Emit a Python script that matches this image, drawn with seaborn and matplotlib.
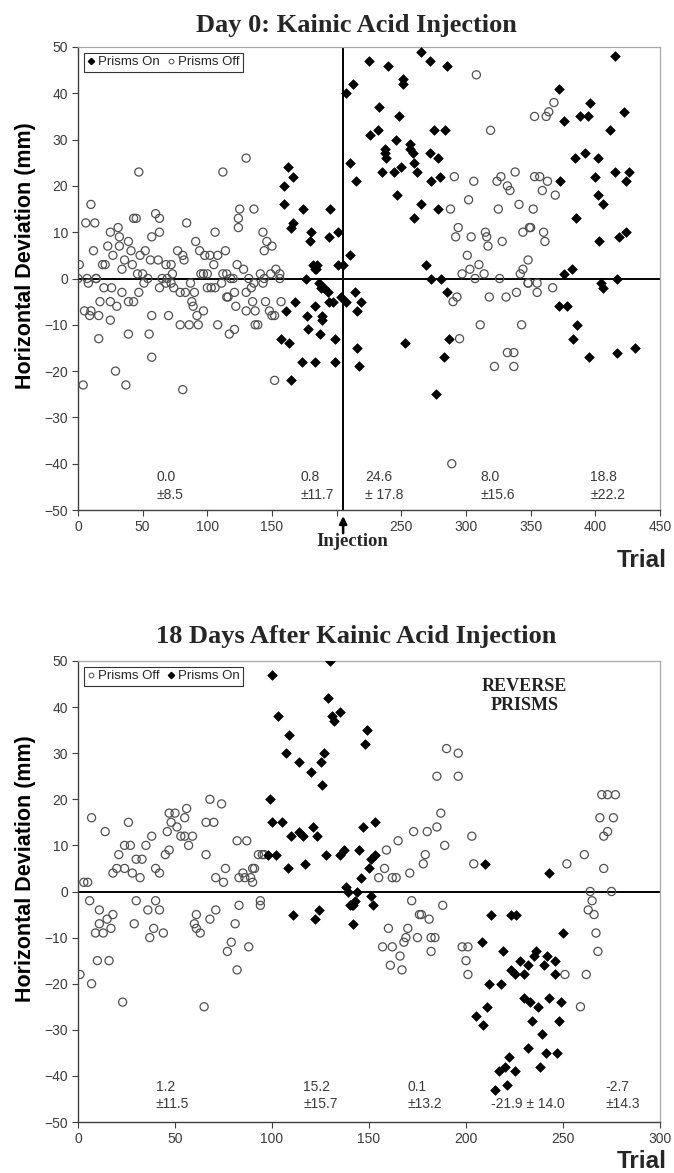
import numpy as np
import pandas as pd
import matplotlib
matplotlib.use("Agg")
import matplotlib.pyplot as plt
from matplotlib.lines import Line2D
import seaborn as sns

# ------------------------------------------------------------------
# Data (trial, deviation in mm)
# ------------------------------------------------------------------
# Day 0 - prisms off (open circles)
day0_off_x = [1, 0, 7, 14, 4, 10, 6, 13, 12, 5, 9, 10, 8, 14, 16, 16, 17, 19, 21, 20, 23, 25, 27, 25, 25,
              26, 30, 29, 31, 32, 32, 34, 34, 36, 37, 39, 39, 41, 39, 43, 42, 43, 45, 47, 46, 47, 48, 50,
              52, 51, 54, 55, 56, 57, 57, 57, 60, 63, 63, 62, 63, 65, 68, 68, 72, 69, 72, 73, 70, 74, 77,
              79, 83, 81, 82, 79, 86, 93, 81, 84, 87, 88, 89, 90, 91, 92, 94, 95, 97, 100, 97, 98, 100,
              103, 106, 102, 108, 105, 106, 108, 111, 112, 112, 115, 114, 116, 115, 117, 118, 120, 121,
              121, 122, 123, 125, 124, 124,
              130, 136, 143, 146, 150, 144, 128, 132, 136, 141, 144, 149, 153, 156, 156, 134, 130, 143,
              130, 135, 137, 145, 148, 150, 152, 157, 137, 139, 152,
              308, 319, 291, 306, 324, 327, 332, 334, 338, 302, 341, 288, 325, 294, 292, 304, 315, 316,
              317, 328, 344, 349, 301, 310, 303, 297, 307, 314, 326, 342, 344, 348, 348, 290, 293, 318,
              331, 339, 311, 343, 295, 332, 337, 322, 337, 289,
              353, 362, 364, 368, 353, 357, 363, 359, 369, 352, 350, 360, 361, 348, 355, 355, 367]
day0_off_y = [3, 0, 0, 0, -23, 16, 12, 12, 6, -7, -8, -7, -1, 0, -8, -13, -5, 3, 3, -2, 7, 10, 5, -5, -9,
              -2, -6, -20, 11, 9, 7, 2, -3, 4, -23, -12, 8, 6, -5, -5, 3, 13, 13, 23, 1, -3, 5, 1,
              6, -1, 0, -12, 4, -8, -17, 9, 14, 13, 10, 4, -2, 0, -1, 3, 3, 0, -1, 1, -8, -2, 6,
              -3, -3, 5, 4, -10, -10, -10, -24, 12, -1, -5, -6, -3, 8, -8, 6, 1, 1, 1, -7, 5, -2,
              -2, -2, 5, 5, 3, 10, -10, -1, 23, 1, 1, 6, -4, -4, -12, 0, 0, -3,
              -11, -6, 3, 15, 13, 11,
              26, 15, 10, 8, 7, 6, 2, 0, -1, 1, 0, 1, 2, 1, 0, -2, -3, -1,
              -7, -5, -7, -5, -7, -8, -8, -5, -10, -10, -22,
              44, 32, 22, 21, 21, 22, 20, 19, 23, 17, 16, 15, 15, 11, 9, 9, 10, 9,
              7, 8, 10, 11, 5, 3, 2, 1, 0, 1, 0, 1, 2, 4, -1, -5, -4, -4,
              -4, -3, -10, -10, -13, -16, -16, -19, -19, -40,
              35, 35, 36, 38, 22, 22, 21, 19, 18, 15, 11, 10, 8, -1, -1, -3, -2]

# Day 0 - prisms on (filled diamonds)
day0_on_x = [162, 166, 159, 159, 174, 195, 165, 166, 180, 179, 194, 201, 201, 205, 182, 184, 185, 183,
             176, 186, 188, 190, 193, 194, 197, 203, 207, 214, 219, 216, 168, 161, 177, 183, 189, 189,
             178, 187, 199, 157, 163, 216, 173, 183, 199, 217, 165,
             207, 213, 210, 215, 210, 225, 240, 233, 226, 232, 237, 237, 238, 235,
             265, 272, 285, 251, 251, 248, 275, 284, 246, 257, 257, 259, 260, 272, 278, 244, 250,
             262, 273, 280, 247, 265, 278, 260, 269, 273, 281, 285, 287, 253, 283, 277,
             372, 376, 388, 394, 396, 415, 422, 411, 384, 392, 402, 373, 400, 402, 406, 415, 426,
             424, 385, 403, 418, 424, 376, 382, 404, 406, 417, 372, 378, 386, 383, 395, 417, 431]
day0_on_y = [24, 22, 20, 16, 15, 15, 11, 12, 10, 8, 9, 10, 3, 3, 3, 2, 3, 2,
             0, -1, -2, -2, -3, -5, -5, -4, -5, -3, -5, -7, -5, -7, -8, -6, -8, -9,
             -11, -12, -13, -13, -14, -15, -18, -18, -18, -19, -22,
             40, 42, 25, 21, 5, 47, 46, 37, 31, 32, 28, 27, 26, 23,
             49, 47, 46, 43, 42, 35, 32, 32, 30, 29, 28, 27, 25, 27, 26, 23, 24,
             23, 21, 22, 18, 16, 15, 13, 3, 0, 0, -3, -13, -14, -17, -25,
             41, 34, 35, 35, 38, 48, 36, 32, 26, 27, 26, 21, 22, 18, 16, 23, 23,
             21, 13, 8, 9, 10, 1, 2, -1, -2, 0, -6, -6, -10, -13, -17, -16, -15]

# 18 days - prisms off (open circles)
day18_off_x = [1, 3, 5, 7, 6, 11, 7, 9, 13, 11, 15, 18, 10, 16, 17, 14, 18, 20, 24, 21, 23, 24, 27, 28,
               29, 30, 26, 30, 33, 32, 35, 36, 37, 39, 38, 40, 42, 40, 42, 44, 45, 47, 46, 47, 50, 48,
               51, 53, 55, 59, 55, 56, 57, 60, 61, 63, 61, 65, 66, 66, 70, 68, 71, 68, 74, 71, 75, 76,
               77, 79, 81, 82, 82, 83, 83,
               87, 93, 95, 96, 85, 86, 90, 91, 89, 90, 94, 94, 88,
               190, 196, 185, 196, 187, 173, 180, 185, 203, 165, 159, 179, 178, 189, 158, 155, 162, 164,
               171, 204, 172, 188, 176, 177, 181, 160, 170, 169, 168, 175, 182, 184, 182, 157, 162, 166,
               161, 167, 198, 201, 200, 201,
               270, 273, 277, 269, 276, 273, 271, 261, 252, 271, 264, 275, 265, 263, 266, 267, 268, 251,
               262, 259]
day18_off_y = [-18, 2, 2, 16, -2, -4, -20, -9, -9, -7, -6, -5, -15, -15, -8, 13, 4, 5, 5, 8, -24, 10, 10, 4,
               -7, -2, 15, 7, 7, 3, 10, -4, -10, -8, 12, -2, -4, 5, 4, -9, 8, 9, 13, 17, 17, 15,
               14, 12, 12, 12, 16, 18, 10, -7, -8, -9, -5, -25, 8, 15, 15, -6, -4, 20, 19, 3, 2, 5,
               -13, -11, -7, -17, 11, 3, -3,
               11, 8, 8, 8, 4, 3, 5, 5, 3, 2, -2, -3, -12,
               31, 30, 25, 25, 17, 13, 13, 14, 12, 11, 9, 8, 6, 10, 5, 3, 3, 3,
               4, 6, -2, -3, -5, -5, -6, -8, -8, -10, -11, -10, -10, -10, -13, -12, -12, -14,
               -16, -17, -12, -12, -15, -18,
               21, 21, 21, 16, 16, 13, 12, 8, 6, 5, 0, 0, -2, -4, -5, -9, -13, -18,
               -18, -25]

# 18 days - prisms on (filled diamonds)
day18_on_x = [100, 103, 109, 107, 114, 120, 126, 125, 127, 129, 130, 131, 132, 135, 149, 148, 99, 100,
              105, 98, 102, 110, 114, 116, 121, 123, 108, 117, 128, 135, 137, 147, 153, 145, 153, 150,
              146, 138, 139, 144, 143, 142, 141, 140, 151, 152, 142, 111, 122, 124,
              151, 210, 213, 223, 226, 208, 219, 223, 225, 212, 218, 211, 205, 209, 222, 220, 217, 225,
              215, 221,
              243, 250, 228, 230, 232, 236, 235, 240, 242, 246, 246, 230, 233, 237, 243, 249, 234, 248,
              239, 232, 241, 247, 238]
day18_on_y = [47, 38, 34, 30, 28, 26, 23, 28, 30, 42, 50, 38, 37, 39, 35, 32, 20, 15,
              15, 8, 8, 12, 13, 12, 14, 12, 5, 6, 8, 8, 9, 14, 15, 9, 8, 5,
              3, 1, 0, 0, -2, -3, -3, -3, -1, -3, -7, -5, -6, -4,
              7, 6, -5, -5, -5, -11, -13, -17, -18, -20, -20, -25, -27, -29, -36, -38, -39, -39,
              -43, -42,
              4, -9, -15, -18, -16, -13, -14, -16, -14, -15, -18, -23, -24, -25, -23, -24, -28, -28,
              -31, -34, -35, -35, -38]

# group means +/- SD written under each block
day0_notes = ["0.0\n\u00b18.5", "0.8\n\u00b111.7", "24.6\n\u00b1 17.8", "8.0\n\u00b115.6", "18.8\n\u00b122.2"]
day0_note_x = [61, 172, 222, 311, 396]
day18_notes = ["1.2\n\u00b111.5", "15.2\n\u00b115.7", "0.1\n\u00b113.2", "-2.7\n\u00b114.3"]
day18_note_x = [40, 116, 170, 272]

x_ticks_day0 = list(range(0, 451, 50))
x_ticks_day18 = list(range(0, 301, 50))
y_ticks = list(range(-50, 51, 10))

# ------------------------------------------------------------------
sns.set_style("white")
plt.rcParams['font.family'] = ['Liberation Sans', 'DejaVu Sans']
SERIF = ["Liberation Serif", "DejaVu Serif"]

W, H = 674, 1173
fig = plt.figure(figsize=(W / 100, H / 100), dpi=100)

ax_top = fig.add_axes([78 / W, 1 - 510 / H, 582 / W, 463 / H])
ax_bot = fig.add_axes([78 / W, 1 - 1122 / H, 582 / W, 461 / H])

off_kws = dict(marker="o", s=34, color="#505050", facecolor="none", edgecolor="#505050", linewidth=0.9)
on_kws = dict(marker="D", s=24, color="black", edgecolor="black", linewidth=0.5)


def style_axes(ax, xmax, xticks, hide=None):
    ax.set_xlim(0, xmax)
    ax.set_ylim(-50, 50)
    ax.set_xticks(xticks)
    ax.set_xticklabels(["" if t == hide else str(t) for t in xticks])
    ax.set_yticks(y_ticks)
    ax.tick_params(axis="both", labelsize=10, labelcolor="#3a3a3a", color="#404040",
                   direction="out", length=4, width=0.8, pad=3, left=True, bottom=True)
    for side in ["top", "right"]:
        ax.spines[side].set_color("#a8a8a8")
        ax.spines[side].set_linewidth(0.9)
    for side in ["left", "bottom"]:
        ax.spines[side].set_color("#404040")
        ax.spines[side].set_linewidth(1.0)
    ax.axhline(0, color="black", lw=1.4, zorder=1)
    ax.set_xlabel("")
    ax.set_ylabel("Horizontal Deviation (mm)", fontsize=15.5, fontweight="bold", color="black")
    ax.yaxis.set_label_coords(-0.072, 0.55)


def add_legend(ax, handles, labels):
    leg = ax.legend(handles, labels, loc="upper left", ncol=2, fontsize=9.5, frameon=True,
                    fancybox=False, handlelength=0.5, handletextpad=0.3, columnspacing=0.6,
                    borderpad=0.25, borderaxespad=0.45)
    leg.get_frame().set_edgecolor("black")
    leg.get_frame().set_linewidth(0.8)
    return leg


h_on = Line2D([], [], ls="", marker="D", ms=3.2, color="black")
h_off = Line2D([], [], ls="", marker="o", ms=3.4, mfc="none", mec="#505050", mew=0.7)

# ---------------- Day 0 ----------------
sns.scatterplot(x=day0_off_x, y=day0_off_y, ax=ax_top, zorder=3, **off_kws)
sns.scatterplot(x=day0_on_x, y=day0_on_y, ax=ax_top, zorder=3, **on_kws)
style_axes(ax_top, 450, x_ticks_day0, hide=200)
ax_top.axvline(205, color="black", lw=1.4, zorder=1)

for txt, xv in zip(day0_notes, day0_note_x):
    ax_top.text(xv, -44.8, txt, ha="left", va="center", fontsize=10, color="#3a3a3a", linespacing=1.3)

ax_top.text(0.478, 1.032, "Day 0: Kainic Acid Injection", transform=ax_top.transAxes, ha="center",
            va="baseline", fontsize=19, fontweight="bold", family=SERIF)
ax_top.text(1.012, -0.108, "Trial", transform=ax_top.transAxes, ha="right", va="center",
            fontsize=17.5, fontweight="bold")
# arrow marking the injection trial, below the axis
ax_top.annotate("", xy=(205, -0.013), xytext=(205, -0.05), xycoords=("data", "axes fraction"),
                textcoords=("data", "axes fraction"),
                arrowprops=dict(arrowstyle="-|>", color="black", lw=1.8, mutation_scale=11,
                                shrinkA=0, shrinkB=0),
                annotation_clip=False)
ax_top.text(212, -0.068, "Injection", transform=ax_top.get_xaxis_transform(), ha="center",
            va="center", fontsize=13.5, fontweight="bold", family=SERIF)

add_legend(ax_top, [h_on, h_off], ["Prisms On", "Prisms Off"])

# ---------------- 18 days ----------------
sns.scatterplot(x=day18_off_x, y=day18_off_y, ax=ax_bot, zorder=3, **off_kws)
sns.scatterplot(x=day18_on_x, y=day18_on_y, ax=ax_bot, zorder=3, **on_kws)
style_axes(ax_bot, 300, x_ticks_day18)

for txt, xv in zip(day18_notes, day18_note_x):
    ax_bot.text(xv, -44.2, txt, ha="left", va="center", fontsize=10, color="#3a3a3a", linespacing=1.3)
ax_bot.text(213, -46, "-21.9 \u00b1 14.0", ha="left", va="center", fontsize=10, color="#3a3a3a")
ax_bot.text(230, 42.4, "REVERSE\nPRISMS", ha="center", va="center", fontsize=13, fontweight="bold",
            color="#222222", linespacing=1.15, family=SERIF)

ax_bot.text(0.478, 1.038, "18 Days After Kainic Acid Injection", transform=ax_bot.transAxes,
            ha="center", va="baseline", fontsize=19, fontweight="bold", family=SERIF)
ax_bot.text(1.012, -0.085, "Trial", transform=ax_bot.transAxes, ha="right", va="center",
            fontsize=17.5, fontweight="bold")

add_legend(ax_bot, [h_off, h_on], ["Prisms Off", "Prisms On"])

fig.savefig("out.png", dpi=100)
